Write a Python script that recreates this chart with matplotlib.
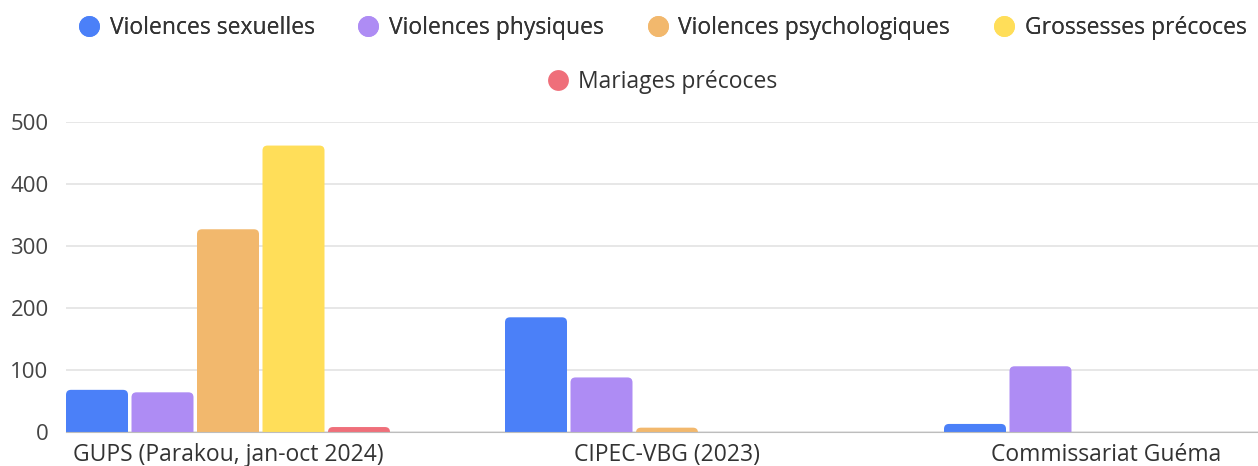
import matplotlib.pyplot as plt
import numpy as np
from matplotlib.patches import FancyBboxPatch
from matplotlib.lines import Line2D

#Données
structures = ["GUPS (Parakou, jan-oct 2024)", "CIPEC-VBG (2023)", "Commissariat Guéma"]
series = ["Violences sexuelles", "Violences physiques", "Violences psychologiques",
          "Grossesses précoces", "Mariages précoces"]
violences_sexuelles = [68, 185, 13]
violences_physiques = [64, 88, 106]
violences_psychologiques = [327, 7, 0]
grossesses_precoces = [462, 0, 0]
mariages_precoces = [8, 0, 0]
valeurs = [violences_sexuelles, violences_physiques, violences_psychologiques,
           grossesses_precoces, mariages_precoces]
couleurs = ["#4b80f8", "#ae8cf4", "#f2b86d", "#ffde59", "#ef6f7a"]
yticks = [0, 100, 200, 300, 400, 500]

plt.rcParams['font.family'] = ['Open Sans', 'DejaVu Sans']

W, H = 1258, 466
fig = plt.figure(figsize=(W / 100, H / 100), dpi=100)
# zone du graphe en pixels
left, right, top, bottom = 66, 1258, 122, 432
ax = fig.add_axes([left / W, 1 - bottom / H, (right - left) / W, (bottom - top) / H])

pas_groupe = 439.0           # px entre groupes
pas_barre = 65.5 / pas_groupe
larg_barre = 62 / pas_groupe
x0 = -2 * pas_barre - larg_barre / 2
x1 = x0 + (right - left) / pas_groupe
ax.set_xlim(x0, x1)
ax.set_ylim(0, 500)

# conversion px -> unités pour les coins arrondis
px_x = 1 / pas_groupe
px_y = 500 / (bottom - top)
r = 5 * px_x
aspect = px_y / px_x

x = np.arange(len(structures))
for i, (vals, c) in enumerate(zip(valeurs, couleurs)):
    for j, v in enumerate(vals):
        if v <= 0:
            continue
        xc = x[j] + (i - 2) * pas_barre
        p = FancyBboxPatch((xc - larg_barre / 2, -20), larg_barre, v + 20,
                           boxstyle="round,pad=0,rounding_size=%f" % r,
                           mutation_aspect=aspect, fc=c, ec="none", zorder=3)
        ax.add_patch(p)

#Axes et grille
ax.set_yticks(yticks)
ax.set_xticks(x)
ax.set_xticklabels(structures, fontsize=16.5, color="#333333")
ax.set_yticklabels([str(t) for t in yticks], fontsize=16, color="#444444")
ax.tick_params(axis="both", length=0)
ax.tick_params(axis="y", pad=12.5)
ax.tick_params(axis="x", pad=8)
ax.grid(axis="y", color="#e3e3e3", linewidth=1.2, zorder=0)
for s in ["top", "right", "left"]:
    ax.spines[s].set_visible(False)
ax.spines["bottom"].set_color("#bdbdbd")
ax.spines["bottom"].set_zorder(4)

#Légende
cx = 662 / W
poignees = [Line2D([], [], marker="o", linestyle="none", markersize=15,
                   markerfacecolor=c, markeredgecolor="none") for c in couleurs]
leg1 = fig.legend(poignees[:4], series[:4], loc="center", bbox_to_anchor=(cx, 1 - 28 / H),
                  ncol=4, frameon=False, fontsize=16.5, handletextpad=0.4,
                  columnspacing=1.85, handlelength=1.0, labelcolor="#333333")
fig.legend(poignees[4:], series[4:], loc="center", bbox_to_anchor=(cx, 1 - 82 / H),
           ncol=1, frameon=False, fontsize=16.5, handletextpad=0.4,
           handlelength=1.0, labelcolor="#333333")
fig.add_artist(leg1)

plt.savefig("out.png", dpi=100)
